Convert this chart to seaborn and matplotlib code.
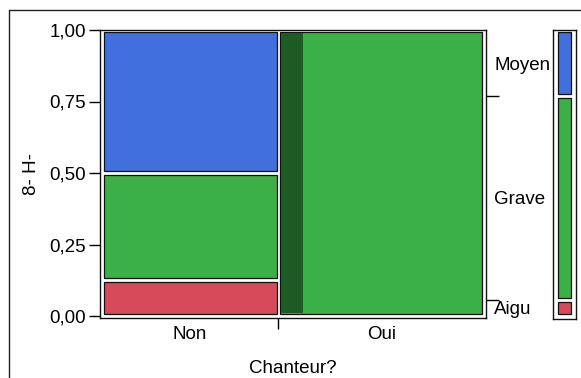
import numpy as np
import matplotlib
matplotlib.use('Agg')
import matplotlib.pyplot as plt
import seaborn as sns
from matplotlib.lines import Line2D

# ─────────────────────────────────────────────────────────────
# Data (counts read off the mosaic)
# ─────────────────────────────────────────────────────────────
chanteur = ['Non', 'Oui']
voix = ['Aigu', 'Grave', 'Moyen']
counts_non = [3, 9, 12]
counts_oui = [0, 28, 0]
oui_selected = 3           # highlighted (darker) rows in the Oui / Grave cell
yticks = [0.0, 0.25, 0.5, 0.75, 1.0]
ytick_labels = ['0,00', '0,25', '0,50', '0,75', '1,00']

colors = {'Aigu': '#D64A5A', 'Grave': '#3AB046', 'Moyen': '#4170DE'}
dark_green = '#1E5A24'

sns.set_theme(style='white')
plt.rcParams['font.family'] = ['Liberation Sans', 'DejaVu Sans']
plt.rcParams['text.color'] = 'black'
plt.rcParams['axes.labelcolor'] = 'black'
plt.rcParams['xtick.color'] = 'black'
plt.rcParams['ytick.color'] = 'black'
FS = 13.5
EDGE = '#111111'

fig = plt.figure(figsize=(5.81, 3.78), dpi=100)
W, H = 581, 378

def px_axes(x0, y0, x1, y1):
    return fig.add_axes([x0 / W, 1 - y1 / H, (x1 - x0) / W, (y1 - y0) / H])

# outer frame (top and left only visible)
fig.add_artist(Line2D([8.5 / W, 8.5 / W], [0, 1 - 10 / H], color='#222222', lw=1.0))
fig.add_artist(Line2D([8.5 / W, 1], [1 - 10 / H, 1 - 10 / H], color='#222222', lw=1.0))

ax = px_axes(100, 30, 486, 318)
ax_m = px_axes(553, 29.5, 576, 318.5)

counts = np.array([counts_non, counts_oui], dtype=float)
col_tot = counts.sum(axis=1)
col_w = col_tot / col_tot.sum()
col_x0 = np.concatenate([[0], np.cumsum(col_w)[:-1]])

# pixel -> data units
mx = 2.0 / 382.0
ax.set_xlim(-mx, 1 + mx)
ppx = (1 + 2 * mx) / 386.0
my = 2.0 / 286.0
ax.set_ylim(-my, 1)
ppy = (1 + my) / 288.0
gx, gy = 1.8 * ppx, 2.0 * ppy

def cell(a, x0, x1, y0, y1, color, gxx, gyy):
    a.bar(x0 + gxx, y1 - y0 - 2 * gyy, width=x1 - x0 - 2 * gxx, bottom=y0 + gyy,
          align='edge', color=color, edgecolor=EDGE, linewidth=0.9)

for i, name in enumerate(chanteur):
    props = counts[i] / col_tot[i]
    bottoms = np.concatenate([[0], np.cumsum(props)[:-1]])
    for j, v in enumerate(voix):
        if props[j] == 0:
            continue
        x0, x1 = col_x0[i], col_x0[i] + col_w[i]
        y0, y1 = bottoms[j], bottoms[j] + props[j]
        cell(ax, x0, x1, y0, y1, colors[v], gx, gy)
        if name == 'Oui' and v == 'Grave':
            frac = oui_selected / counts[i, j]
            ax.bar(x0 + gx + 0.6 * ppx, y1 - y0 - 2 * gy - 1.2 * ppy,
                   width=frac * (x1 - x0),
                   bottom=y0 + gy + 0.6 * ppy, align='edge', color=dark_green, linewidth=0)

for s in ax.spines.values():
    s.set_color(EDGE)
    s.set_linewidth(1.0)

ax.set_yticks(yticks)
ax.set_yticklabels(ytick_labels, fontsize=FS)
ax.tick_params(axis='y', which='major', left=True, length=8, width=1.0, pad=2)
ax.set_xticks([col_x0[1]])
ax.set_xticklabels([''])
ax.set_xticks(col_x0 + col_w / 2, minor=True)
ax.set_xticklabels(chanteur, minor=True, fontsize=FS)
ax.tick_params(axis='x', which='major', bottom=True, length=8, width=1.0)
ax.tick_params(axis='x', which='minor', bottom=True, length=0, pad=6)
ax.set_xlabel('Chanteur?', fontsize=FS, labelpad=12)
ax.set_ylabel('8- H-', fontsize=FS, labelpad=7)

# marginal distribution
tot = counts.sum(axis=0)
mprops = tot / tot.sum()
mbottoms = np.concatenate([[0], np.cumsum(mprops)[:-1]])
ax_m.set_xlim(0, 1)
ax_m.set_ylim(-my, 1 + 0.5 * ppy)
mgx = 5.0 / 23.0
for j, v in enumerate(voix):
    cell(ax_m, 0, 1, mbottoms[j], mbottoms[j] + mprops[j], colors[v], mgx, gy)
ax_m.set_xticks([])
ax_m.set_yticks([])
for s in ax_m.spines.values():
    s.set_color(EDGE)
    s.set_linewidth(1.0)

# right-hand category labels of main plot
ax2 = ax.twinx()
ax2.set_ylim(ax.get_ylim())
ax2.set_yticks(np.cumsum(mprops)[:-1])
ax2.set_yticklabels([])
ax2.set_yticks(mbottoms + mprops / 2, minor=True)
ax2.set_yticklabels(voix, minor=True, fontsize=FS)
ax2.tick_params(axis='y', which='major', right=True, length=9, width=1.0)
ax2.tick_params(axis='y', which='minor', right=True, length=0, pad=6)
for s in ax2.spines.values():
    s.set_visible(False)

fig.savefig('out.png', dpi=100)
